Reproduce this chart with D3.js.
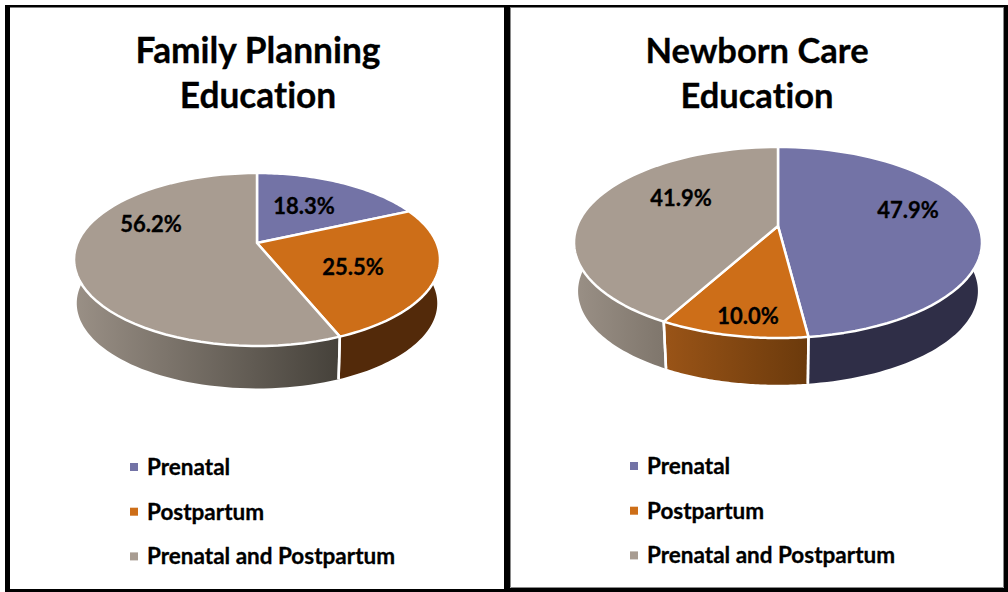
<!DOCTYPE html>
<html>
<head>
<meta charset="utf-8">
<script src="https://cdnjs.cloudflare.com/ajax/libs/d3/7.8.5/d3.min.js"></script>
<style>
html, body { margin: 0; padding: 0; background: #fff; }
svg { display: block; }
text { font-family: Lato, "Open Sans", sans-serif; font-weight: 700; fill: #000; font-variant-ligatures: none; stroke: #000; stroke-width: 0.3px; }
</style>
</head>
<body>
<script>
const categories = ['Prenatal', 'Postpartum', 'Prenatal and Postpartum'];
const familyValues = [18.3, 25.5, 56.2];
const newbornValues = [47.9, 10.0, 41.9];
const familyTitle = ['Family Planning', 'Education'];
const newbornTitle = ['Newborn Care', 'Education'];
const colors = ['#7373a6', '#cd6e18', '#a89c91'];

const svg = d3.select('body').append('svg').attr('width', 1008).attr('height', 592);
const defs = svg.append('defs');
svg.append('rect').attr('width', 1008).attr('height', 592).attr('fill', '#fff');

// Frame: black bars, not equally thick in the original
const frameBars = [
    [5, 5, 1003, 2.5], [5, 5, 5, 587], [504, 5, 6, 587], [1004, 5, 4, 587],
    [5, 589, 505, 3], [510, 588, 498, 4]
];
svg.selectAll('rect.frame').data(frameBars).join('rect').attr('class', 'frame')
    .attr('x', d => d[0]).attr('y', d => d[1]).attr('width', d => d[2]).attr('height', d => d[3])
    .attr('fill', '#000');
// thin grey edge inside the right panel
svg.append('path').attr('d', 'M510.5 8V587.5H1003.5V8').attr('fill', 'none')
    .attr('stroke', '#8a8a8a').attr('stroke-width', 1);

// Tilted pie: projective map so the apex sits above the middle of the rim ellipse
function projector(p) {
    const k = (p.front - p.back) / (p.front + p.back);
    const b = p.front * (1 - k);
    const a = p.rx * Math.sqrt(1 - k * k);
    return (angle, scale = 1, dy = 0) => {
        const x = Math.sin(angle), y = -Math.cos(angle);
        const w = 1 - k * y;
        return [p.cx + scale * a * x / w, p.cy + dy + scale * b * y / w];
    };
}

const line = d3.line();
const sampleAngles = (a0, a1) => d3.range(0, 61).map(i => a0 + (a1 - a0) * i / 60);

function drawPie(g, id, values, p) {
    const project = projector(p);
    const arcs = d3.pie().sort(null)(values);
    const minA = Math.PI * 0.44, maxA = Math.PI * 1.56;

    // side wall
    arcs.forEach((d, i) => {
        const a0 = Math.max(d.startAngle, minA), a1 = Math.min(d.endAngle, maxA);
        if (a1 <= a0) return;
        const angles = sampleAngles(a0, a1);
        const top = angles.map(a => project(a));
        const bottom = angles.map(a => project(a, p.wallScale, p.depth)).reverse();
        const gradId = `${id}-wall-${i}`;
        const xs = top.map(t => t[0]);
        const grad = defs.append('linearGradient').attr('id', gradId)
            .attr('gradientUnits', 'userSpaceOnUse')
            .attr('x1', d3.min(xs)).attr('x2', d3.max(xs)).attr('y1', 0).attr('y2', 0);
        grad.append('stop').attr('offset', 0).attr('stop-color', p.wall[i][0]);
        grad.append('stop').attr('offset', 1).attr('stop-color', p.wall[i][1]);
        g.append('path')
            .attr('d', line(top.concat(bottom)) + 'Z')
            .attr('fill', `url(#${gradId})`);
    });
    // white seams between the wall pieces
    arcs.forEach(d => {
        [d.startAngle, d.endAngle].forEach(a => {
            if (a <= minA || a >= maxA) return;
            g.append('path')
                .attr('d', line([project(a), project(a, p.wallScale, p.depth)]))
                .attr('stroke', '#fff').attr('stroke-width', 2.5).attr('fill', 'none');
        });
    });

    // top face
    arcs.forEach((d, i) => {
        const pts = [[p.cx, p.cy]].concat(sampleAngles(d.startAngle, d.endAngle).map(a => project(a)));
        g.append('path')
            .attr('d', line(pts) + 'Z')
            .attr('fill', colors[i])
            .attr('stroke', '#fff').attr('stroke-width', 2.5).attr('stroke-linejoin', 'round');
    });

    // data labels
    arcs.forEach((d, i) => {
        g.append('text')
            .attr('x', p.labels[i][0]).attr('y', p.labels[i][1])
            .attr('text-anchor', 'middle')
            .attr('font-size', 22)
            .text(d3.format('.1f')(values[i]) + '%');
    });
}

function drawPanel(id, title, values, p) {
    const g = svg.append('g');
    title.forEach((t, i) => {
        g.append('text').attr('x', p.titleX).attr('y', 62.5 + i * 45)
            .attr('text-anchor', 'middle').attr('font-size', p.titleSize).text(t);
    });
    drawPie(g, id, values, p);
    categories.forEach((c, i) => {
        const ly = p.legendY + i * 44.7;
        g.append('rect').attr('x', p.legendX).attr('y', ly - 4).attr('width', 8).attr('height', 8)
            .attr('fill', colors[i]);
        g.append('text').attr('x', p.legendX + 17).attr('y', ly + 8)
            .attr('font-size', 22.5).text(c);
    });
}

drawPanel('fp', familyTitle, familyValues, {
    cx: 257, cy: 243, rx: 183, front: 103, back: 70, depth: 44, wallScale: 0.985,
    wall: [['#2f2e47', '#2f2e47'], ['#532a0a', '#532a0a'], ['#9a9086', '#45413a']],
    labels: [[304, 214], [353, 275], [151, 232]],
    titleX: 258, titleSize: 35.3, legendX: 130, legendY: 467
});
drawPanel('nc', newbornTitle, newbornValues, {
    cx: 778, cy: 226, rx: 204, front: 112, back: 79, depth: 49, wallScale: 0.98,
    wall: [['#2f2e47', '#2f2e47'], ['#9a5417', '#6b3a0c'], ['#9a9086', '#7f766c']],
    labels: [[908, 218], [748, 324], [681, 206]],
    titleX: 757, titleSize: 34.5, legendX: 630, legendY: 466
});
</script>
</body>
</html>
